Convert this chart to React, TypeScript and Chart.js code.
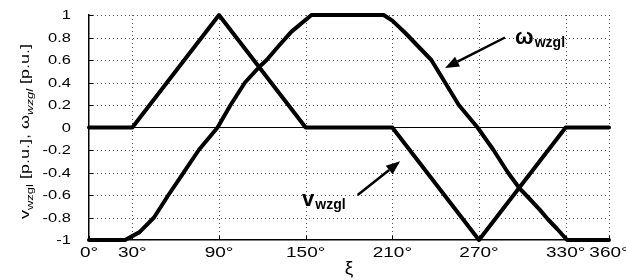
import React, { useEffect, useRef } from "react";
import { Chart, registerables } from "chart.js";
Chart.register(...registerables);

const FONT = "'Liberation Sans', Arial, Helvetica, sans-serif";

// x-axis ticks (degrees) and y-axis ticks (p.u.)
const xTicks = [0, 30, 90, 150, 210, 270, 330, 360];
const yTicks = [-1, -0.8, -0.6, -0.4, -0.2, 0, 0.2, 0.4, 0.6, 0.8, 1];

// v_wzgl series
const vDeg = [0, 30, 90, 150, 210, 270, 330, 360];
const vVal = [0, 0, 1, 0, 0, -1, 0, 0];

// omega_wzgl series
const omegaDeg = [0, 25, 35, 45, 55, 65, 76, 89, 98, 108, 118, 123, 131, 140, 154, 204, 210, 219, 228, 237, 246.5, 256, 269, 280, 290, 298, 304, 312, 318, 324, 331, 360];
const omegaVal = [-1, -1, -0.93, -0.8, -0.6, -0.41, -0.2, 0, 0.2, 0.4, 0.54, 0.6, 0.72, 0.85, 1, 1, 0.95, 0.84, 0.72, 0.6, 0.4, 0.2, 0, -0.2, -0.4, -0.54, -0.62, -0.73, -0.82, -0.9, -1, -1];

// zero reference line
const zeroDeg = [0, 360];
const zeroVal = [0, 0];

// annotations (data coordinates)
const omegaLabel = { at: [295, 0.745], main: "ω", sub: "wzgl" };
const omegaArrow = [[288, 0.8], [246.5, 0.53]];
const vLabel = { at: [147.5, -0.7], main: "v", sub: "wzgl" };
const vArrow = [[186, -0.6], [215.4, -0.3]];

const SQUEEZE = 0.76; // vertical compression of the original's text

const toXY = (xs: number[], ys: number[]) => xs.map((x, i) => ({ x, y: ys[i] }));

const fmtY = (v: number) => String(Number(v.toFixed(1)));
const fmtX = (v: number) => `${v}°`;

const gridPlugin = {
  id: "gridAndTicks",
  beforeDatasetsDraw(chart: any) {
    const { ctx, chartArea: ca, scales } = chart;
    ctx.save();
    ctx.strokeStyle = "#555";
    ctx.lineWidth = 1;
    ctx.setLineDash([1, 3]);
    xTicks.forEach((v) => {
      if (v === 0) return;
      const x = Math.round(scales.x.getPixelForValue(v)) + 0.5;
      ctx.beginPath();
      ctx.moveTo(x, ca.top);
      ctx.lineTo(x, ca.bottom);
      ctx.stroke();
    });
    yTicks.forEach((v) => {
      if (v === 0 || v === -1) return;
      const y = Math.round(scales.y.getPixelForValue(v)) + 0.5;
      ctx.beginPath();
      ctx.moveTo(ca.left, y);
      ctx.lineTo(ca.right, y);
      ctx.stroke();
    });
    ctx.setLineDash([]);
    ctx.strokeStyle = "#000";
    ctx.lineWidth = 1;
    xTicks.forEach((v) => {
      const x = Math.round(scales.x.getPixelForValue(v)) + 0.5;
      ctx.beginPath();
      ctx.moveTo(x, ca.bottom);
      ctx.lineTo(x, ca.bottom - 4);
      ctx.stroke();
    });
    yTicks.forEach((v) => {
      const y = Math.round(scales.y.getPixelForValue(v)) + 0.5;
      ctx.beginPath();
      ctx.moveTo(ca.left, y);
      ctx.lineTo(ca.left + 4, y);
      ctx.stroke();
    });
    ctx.restore();
  },
  afterDraw(chart: any) {
    const { ctx, chartArea: ca, scales } = chart;
    ctx.save();
    ctx.fillStyle = "#000";
    // y tick labels
    ctx.font = `16.5px ${FONT}`;
    ctx.textAlign = "right";
    ctx.textBaseline = "middle";
    yTicks.forEach((v) => {
      const y = scales.y.getPixelForValue(v);
      ctx.save();
      ctx.translate(71, y + 1);
      ctx.scale(1, SQUEEZE);
      ctx.fillText(fmtY(v), 0, 0);
      ctx.restore();
    });
    // x tick labels
    ctx.font = `19px ${FONT}`;
    ctx.textAlign = "center";
    xTicks.forEach((v) => {
      const x = scales.x.getPixelForValue(v);
      ctx.save();
      ctx.translate(x, ca.bottom + 13);
      ctx.scale(1, SQUEEZE);
      ctx.fillText(fmtX(v), 0, 0);
      ctx.restore();
    });
    ctx.restore();
  },
};

const annotationPlugin = {
  id: "annot",
  afterDatasetsDraw(chart: any) {
    const { ctx, scales } = chart;
    const X = (v: number) => scales.x.getPixelForValue(v);
    const Y = (v: number) => scales.y.getPixelForValue(v);
    ctx.save();
    const drawArrow = (a: number[][]) => {
      const x1 = X(a[0][0]), y1 = Y(a[0][1]), x2 = X(a[1][0]), y2 = Y(a[1][1]);
      const ang = Math.atan2(y2 - y1, x2 - x1);
      const L = 14, W = 5.5;
      const bx = x2 - L * Math.cos(ang), by = y2 - L * Math.sin(ang);
      ctx.strokeStyle = "#000";
      ctx.lineWidth = 2.5;
      ctx.beginPath();
      ctx.moveTo(x1, y1);
      ctx.lineTo(bx, by);
      ctx.stroke();
      ctx.fillStyle = "#000";
      ctx.beginPath();
      ctx.moveTo(x2, y2);
      ctx.lineTo(bx - W * Math.sin(ang), by + W * Math.cos(ang));
      ctx.lineTo(bx + W * Math.sin(ang), by - W * Math.cos(ang));
      ctx.closePath();
      ctx.fill();
    };
    const drawLabel = (l: any) => {
      const px = X(l.at[0]), py = Y(l.at[1]);
      ctx.fillStyle = "#000";
      ctx.textBaseline = "alphabetic";
      ctx.textAlign = "left";
      ctx.font = `bold 22px ${FONT}`;
      ctx.fillText(l.main, px, py);
      const w = ctx.measureText(l.main).width;
      ctx.font = `bold 14px ${FONT}`;
      ctx.fillText(l.sub, px + w + 1, py + 3);
    };
    drawArrow(omegaArrow);
    drawArrow(vArrow);
    drawLabel(omegaLabel);
    drawLabel(vLabel);
    ctx.restore();
  },
};

const yTitlePlugin = {
  id: "ytitle",
  afterDraw(chart: any) {
    const { ctx, chartArea } = chart;
    const parts = [
      { t: "v", f: `18px ${FONT}`, dy: 0 },
      { t: "wzgl", f: `13px ${FONT}`, dy: 5 },
      { t: " [p.u.], ", f: `18px ${FONT}`, dy: 0 },
      { t: "ω", f: `18px ${FONT}`, dy: 0 },
      { t: "wzgl", f: `italic 13px ${FONT}`, dy: 5 },
      { t: " [p.u.]", f: `18px ${FONT}`, dy: 0 },
    ];
    ctx.save();
    let total = 0;
    const widths = parts.map((p) => {
      ctx.font = p.f;
      const w = ctx.measureText(p.t).width;
      total += w;
      return w;
    });
    ctx.translate(29, (chartArea.top + chartArea.bottom) / 2 + 4);
    ctx.rotate(-Math.PI / 2);
    ctx.scale(1, SQUEEZE);
    ctx.fillStyle = "#000";
    ctx.textBaseline = "alphabetic";
    ctx.textAlign = "left";
    let x = -total / 2;
    parts.forEach((p, i) => {
      ctx.font = p.f;
      ctx.fillText(p.t, x, p.dy);
      x += widths[i];
    });
    ctx.restore();
  },
};

export default function App() {
  const ref = useRef<HTMLCanvasElement>(null);
  useEffect(() => {
    if (!ref.current) return;
    const lineStyle = {
      borderColor: "#000",
      borderWidth: 4,
      pointRadius: 0,
      fill: false,
      tension: 0,
      borderCapStyle: "round" as const,
      borderJoinStyle: "round" as const,
      clip: false as any,
    };
    const chart = new Chart(ref.current, {
      type: "line",
      data: {
        datasets: [
          { label: "v", data: toXY(vDeg, vVal), ...lineStyle },
          { label: "omega", data: toXY(omegaDeg, omegaVal), ...lineStyle },
          { label: "zero", data: toXY(zeroDeg, zeroVal), borderColor: "#000", borderWidth: 1.2, pointRadius: 0, fill: false },
        ],
      },
      options: {
        animation: false,
        responsive: true,
        maintainAspectRatio: false,
        parsing: false as any,
        layout: { padding: { left: 0, right: 17, top: 15, bottom: 0 } },
        plugins: { legend: { display: false }, tooltip: { enabled: false } },
        scales: {
          x: {
            type: "linear",
            min: 0,
            max: 360,
            afterBuildTicks: (s: any) => {
              s.ticks = xTicks.map((v) => ({ value: v }));
            },
            afterFit: (s: any) => {
              s.height = 40;
            },
            ticks: { display: false },
            grid: { display: false, drawTicks: false },
            border: { display: true, color: "#000", width: 1.5 },
            title: { display: true, text: "ξ", color: "#000", font: { family: FONT, size: 19 }, padding: { top: 0, bottom: 0 } },
          },
          y: {
            type: "linear",
            min: -1,
            max: 1,
            afterBuildTicks: (s: any) => {
              s.ticks = yTicks.map((v) => ({ value: v }));
            },
            afterFit: (s: any) => {
              s.width = 89;
            },
            ticks: { display: false },
            grid: { display: false, drawTicks: false },
            border: { display: true, color: "#000", width: 1.5 },
          },
        },
      },
      plugins: [gridPlugin, annotationPlugin, yTitlePlugin],
    });
    return () => chart.destroy();
  }, []);
  return (
    <div style={{ position: "absolute", left: 0, top: 0, width: 626, height: 280, background: "#fff" }}>
      <canvas ref={ref} />
    </div>
  );
}
